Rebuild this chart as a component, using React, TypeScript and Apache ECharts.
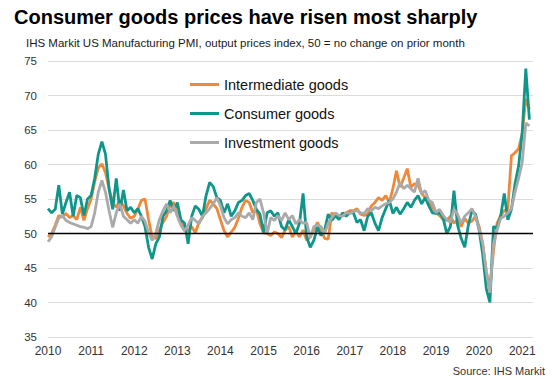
import React, { useEffect, useRef } from "react";
import * as echarts from "echarts";

const years: number[] = [2010, 2011, 2012, 2013, 2014, 2015, 2016, 2017, 2018, 2019, 2020, 2021];
const monthsShown = 136; // Jan 2010 .. Apr 2021 on the axis

const intermediate: number[] = [
  49.5, 50.0, 51.2, 52.6, 52.4, 52.9, 52.3, 52.6, 52.0, 53.8, 51.9, 53.6,
  55.0, 57.5, 59.5, 60.1, 58.8, 56.5, 54.5, 53.8, 54.8, 54.0, 52.9, 52.2,
  52.5, 53.5, 54.8, 55.0, 52.0, 49.5, 49.3, 50.5, 51.6, 52.5, 54.1, 54.5,
  52.9, 51.5, 50.9, 50.4, 51.0, 50.1, 51.6, 52.3, 53.6, 54.8, 54.3, 53.6,
  52.0, 50.4, 49.5, 50.2, 50.9, 52.2, 53.8, 54.8, 54.5, 53.0, 53.5, 51.4,
  50.1, 50.0, 49.7, 50.2, 50.0, 49.4, 50.5, 51.0, 49.5, 50.3, 49.5, 50.5,
  49.0, 49.5, 50.5, 51.6, 50.5, 49.3, 49.2, 53.0, 52.6, 52.5, 52.8, 53.0,
  53.3, 53.3, 53.6, 52.8, 52.6, 52.8, 54.0, 54.5, 55.2, 54.8, 55.5, 54.5,
  56.5, 59.1, 56.7, 58.0, 59.4, 56.7, 57.2, 57.0, 55.8, 55.2, 54.5, 53.8,
  53.0, 52.6, 52.0, 51.9, 52.5, 51.5, 52.0, 51.0, 52.2, 51.5, 51.8, 52.5,
  51.0, 48.5, 44.5, 42.0, 47.5, 51.5, 52.6, 53.3, 53.6, 61.3, 61.7, 62.3,
  64.5, 69.5, 68.0,
];

const consumer: number[] = [
  53.6, 53.0, 53.5, 57.0, 52.8, 54.5, 56.0, 52.5, 55.5, 55.2, 52.6, 55.0,
  55.5, 58.0, 61.5, 63.3, 61.5, 56.5, 53.5, 58.0, 53.3, 56.3, 53.3, 53.8,
  53.0, 53.6, 52.5, 51.0, 48.0, 46.3, 48.5, 49.5, 52.5, 53.3, 54.8, 53.3,
  54.5, 52.0, 51.5, 48.5, 52.5, 54.0, 53.5, 52.5, 55.5, 57.4, 56.8, 55.2,
  54.8, 53.0, 54.3, 52.5, 53.3, 54.5, 54.8, 55.5, 55.8, 54.8, 53.5, 52.8,
  50.2, 53.0, 53.3, 52.5, 53.0, 51.0, 50.5, 52.0, 51.0, 50.0, 51.5, 55.8,
  49.5, 48.0, 49.0, 50.9, 49.7, 50.5, 52.8, 51.9, 52.6, 52.0, 53.0, 52.5,
  53.0, 53.0, 51.6, 52.0, 50.4, 52.5, 53.0, 51.5, 50.4, 52.3, 53.6, 54.8,
  52.9, 53.8, 52.8, 53.6, 54.5, 53.8, 54.8, 55.5, 54.3, 55.2, 54.0, 53.0,
  52.9, 53.0, 52.2, 50.0, 51.0, 56.2, 51.2, 49.3, 48.0, 51.2, 53.3, 52.8,
  50.5, 47.0, 42.0, 40.0, 51.0, 50.8, 52.5, 55.8, 52.0, 53.5, 57.2, 59.8,
  64.6, 73.9, 66.5,
];

const investment: number[] = [
  48.8, 49.5, 50.9, 52.2, 52.6, 51.9, 51.6, 51.4, 51.2, 51.0, 50.9, 50.7,
  51.0, 53.0, 56.0, 57.7, 56.0, 53.3, 50.9, 53.0, 54.3, 52.5, 52.0, 51.5,
  52.0, 51.5, 52.5, 51.8, 50.1, 49.0, 50.0, 52.0, 53.3, 54.3, 53.0, 54.0,
  52.5, 51.2, 50.4, 51.2, 52.3, 51.9, 51.4, 52.5, 53.0, 53.6, 54.3, 55.2,
  54.0, 52.3, 51.4, 52.0, 52.3, 53.0, 52.5, 52.3, 53.0, 52.0, 54.5, 55.0,
  53.0, 50.0, 52.3, 51.9, 52.6, 51.9, 53.0, 52.0, 52.6, 51.4, 52.0, 51.5,
  51.6, 49.4, 51.0, 51.2, 51.0, 50.0, 51.5, 52.3, 53.0, 52.6, 52.5, 53.0,
  52.9, 53.2, 53.3, 53.0, 52.9, 53.6, 53.3, 53.8, 53.6, 54.0, 54.3, 54.5,
  55.0, 56.0, 57.4, 56.5, 57.0, 56.5, 56.0, 58.0, 55.8, 56.2, 54.8, 54.5,
  53.0, 53.5, 52.6, 52.0, 51.6, 53.5, 52.8, 51.5, 52.5, 53.0, 53.6, 52.5,
  50.7, 48.5, 44.5, 41.4, 48.5, 50.5, 52.2, 52.5, 53.0, 53.6, 56.0, 58.0,
  60.3, 66.0, 65.6,
];

const seriesNames: string[] = ["Intermediate goods", "Consumer goods", "Investment goods"];
const colors: string[] = ["#F0883A", "#0F968A", "#AAAAAA"];

const categories: string[] = [];
for (let i = 0; i < monthsShown; i++) {
  const y = years[0] + Math.floor(i / 12);
  const m = (i % 12) + 1;
  categories.push(`${y}-${m < 10 ? "0" + m : m}`);
}

const FONT = "'Liberation Sans', Arial, Helvetica, sans-serif";

export default function App() {
  const ref = useRef<HTMLDivElement>(null);
  useEffect(() => {
    if (!ref.current) return;
    const chart = echarts.init(ref.current, undefined, { renderer: "svg" });
    const dataSets = [intermediate, consumer, investment];
    chart.setOption({
      animation: false,
      backgroundColor: "#ffffff",
      textStyle: { fontFamily: FONT },
      title: [
        {
          text: "Consumer goods prices have risen most sharply",
          left: 9,
          top: 2,
          textStyle: { fontFamily: FONT, fontSize: 20, fontWeight: "bold", color: "#000" },
        },
        {
          text: "IHS Markit US Manufacturing PMI, output prices index, 50 = no change on prior month",
          left: 21,
          top: 32,
          textStyle: { fontFamily: FONT, fontSize: 11.5, fontWeight: "normal", color: "#1a1a1a" },
        },
        {
          text: "Source: IHS Markit",
          right: 1,
          top: 360,
          textStyle: { fontFamily: FONT, fontSize: 11, fontWeight: "normal", color: "#333" },
        },
      ],
      legend: {
        data: seriesNames,
        orient: "vertical",
        left: 185,
        top: 71,
        itemGap: 12,
        itemWidth: 29,
        itemHeight: 3,
        icon: "rect",
        textStyle: { fontFamily: FONT, fontSize: 14.5, color: "#111", lineHeight: 17 },
      },
      grid: { left: 48, right: 18, top: 61, bottom: 52 },
      xAxis: {
        type: "category",
        data: categories,
        boundaryGap: false,
        axisLine: { show: false },
        axisTick: { show: false },
        splitLine: { show: false },
        axisLabel: {
          interval: (idx: number) => idx % 12 === 0,
          formatter: (v: string) => v.slice(0, 4),
          fontFamily: FONT,
          fontSize: 12,
          color: "#333",
          margin: 8,
        },
      },
      yAxis: {
        type: "value",
        min: 35,
        max: 75,
        interval: 5,
        axisLine: { show: false },
        axisTick: { show: false },
        splitLine: { lineStyle: { color: "#dcdcdc", width: 1 } },
        axisLabel: { fontFamily: FONT, fontSize: 11.5, color: "#333", margin: 11 },
      },
      series: seriesNames.map((name, k) => ({
        name,
        type: "line",
        data: dataSets[k],
        showSymbol: false,
        symbol: "none",
        z: 2 + k,
        lineStyle: { color: colors[k], width: 2.8 },
        itemStyle: { color: colors[k] },
        ...(k === 0
          ? {
              markLine: {
                silent: true,
                symbol: ["none", "none"],
                label: { show: false },
                lineStyle: { color: "#000", width: 1.3, type: "solid" },
                data: [{ yAxis: 50 }],
              },
            }
          : {}),
      })),
    });
    return () => chart.dispose();
  }, []);
  return <div ref={ref} style={{ width: 551, height: 389, position: "absolute", left: 0, top: 0 }} />;
}
